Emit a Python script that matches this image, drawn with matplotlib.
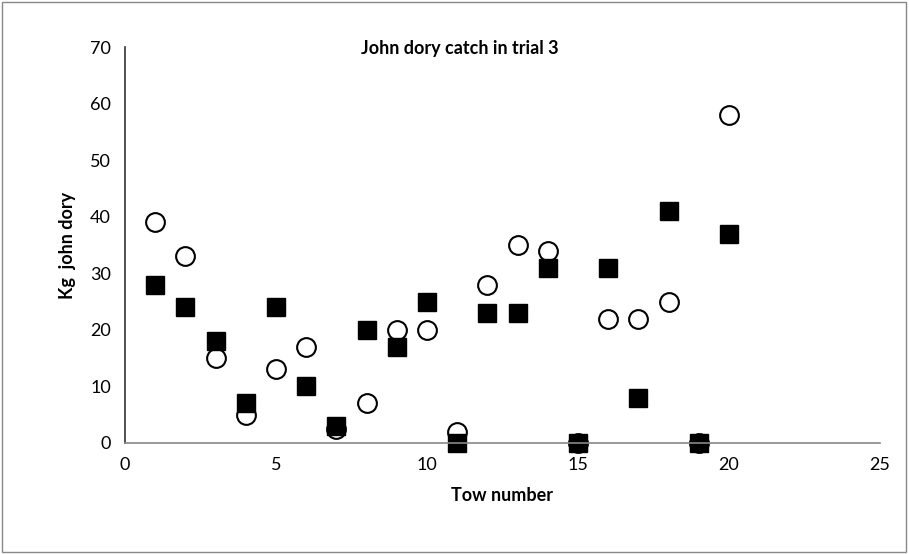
import matplotlib.pyplot as plt
import matplotlib.patches as mpatches

plt.rcParams['font.family'] = ['Lato', 'DejaVu Sans']

tows = [1, 2, 3, 4, 5, 6, 7, 8, 9, 10, 11, 12, 13, 14, 15, 16, 17, 18, 19, 20]
catch_open = [39, 33, 15, 5, 13, 17, 2.5, 7, 20, 20, 2, 28, 35, 34, 0, 22, 22, 25, 0, 58]
catch_filled = [28, 24, 18, 7, 24, 10, 3, 20, 17, 25, 0, 23, 23, 31, 0, 31, 8, 41, 0, 37]

fig = plt.figure(figsize=(9.09, 5.54), dpi=100)
ax = fig.add_axes([0.1375, 0.2004, 0.8305, 0.7146])

ax.plot(tows, catch_open, 'o', ms=13.5, mfc='white', mec='black', mew=1.5, clip_on=False)
ax.plot(tows, catch_filled, 's', ms=13, mfc='black', mec='black', clip_on=False)

ax.set_xlim(0, 25)
ax.set_ylim(0, 70)
ax.set_xticks(range(0, 26, 5))
ax.set_yticks(range(0, 71, 10))
ax.tick_params(labelsize=13, length=0, pad=10)
for s in ['top', 'right']:
    ax.spines[s].set_visible(False)
ax.spines['left'].set_color('#333333')
ax.spines['bottom'].set_color('#888888')
ax.spines['left'].set_linewidth(1.2)
ax.spines['bottom'].set_linewidth(1.2)

ax.set_xlabel('Tow number', fontsize=13, fontweight='bold', labelpad=10)
ax.set_ylabel('Kg  john dory', fontsize=13, fontweight='bold', labelpad=10)
fig.text(0.506, 0.912, 'John dory catch in trial 3', fontsize=13, fontweight='bold',
         ha='center', va='center')

# outer chart border
fig.patches.append(mpatches.Rectangle((0.002, 0.003), 0.995, 0.993, transform=fig.transFigure,
                                      fill=False, edgecolor='#888888', lw=1))

fig.savefig('out.png', dpi=100)
